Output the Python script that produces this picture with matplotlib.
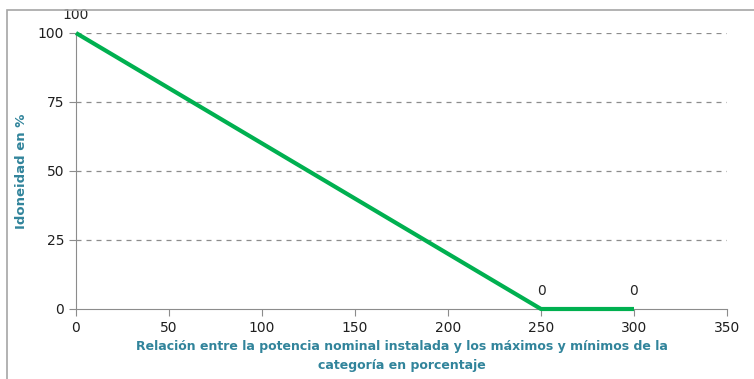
import matplotlib.pyplot as plt
from matplotlib.patches import Rectangle

# Idoneidad vs relación de potencia
x_vals = [0, 250, 300]
y_vals = [100, 0, 0]
x_ticks = [0, 50, 100, 150, 200, 250, 300, 350]
y_ticks = [0, 25, 50, 75, 100]

label_color = "#31849B"
line_color = "#00B050"

fig = plt.figure(figsize=(7.54, 3.79), dpi=100)
# outer chart border
fig.patches.append(Rectangle((7 / 754, -0.05), 1.0, 1 - 10 / 379 + 0.05,
                             transform=fig.transFigure, fill=False,
                             edgecolor="#A6A6A6", linewidth=1.2))

ax = fig.add_axes([76 / 754, 1 - 309 / 379, (727 - 76) / 754, (309 - 33) / 379])
ax.set_xlim(0, 350)
ax.set_ylim(0, 100)
ax.set_xticks(x_ticks)
ax.set_yticks(y_ticks)

for t in y_ticks[1:]:
    ax.axhline(t, color="#8C8C8C", linestyle=(0, (4, 4)), linewidth=0.9, zorder=1)

ax.plot(x_vals, y_vals, color=line_color, linewidth=3, solid_capstyle="butt", zorder=3, clip_on=False)

for xv, yv in zip(x_vals, y_vals):
    ax.annotate(f"{yv}", (xv, yv), xytext=(0, 8), textcoords="offset points",
                ha="center", va="bottom", fontsize=10, color="#262626")

for side in ["top", "right"]:
    ax.spines[side].set_visible(False)
for side in ["left", "bottom"]:
    ax.spines[side].set_color("#8C8C8C")
ax.tick_params(axis="both", colors="#8C8C8C", labelcolor="#1F1F1F", labelsize=10, length=5)

ax.set_ylabel("Idoneidad en %", color=label_color, fontweight="bold", fontsize=9.5, labelpad=7)
ax.set_xlabel("Relación entre la potencia nominal instalada y los máximos y mínimos de la\ncategoría en porcentaje",
              color=label_color, fontweight="bold", fontsize=9, labelpad=4, linespacing=1.6)

fig.savefig("out.png", dpi=100)
